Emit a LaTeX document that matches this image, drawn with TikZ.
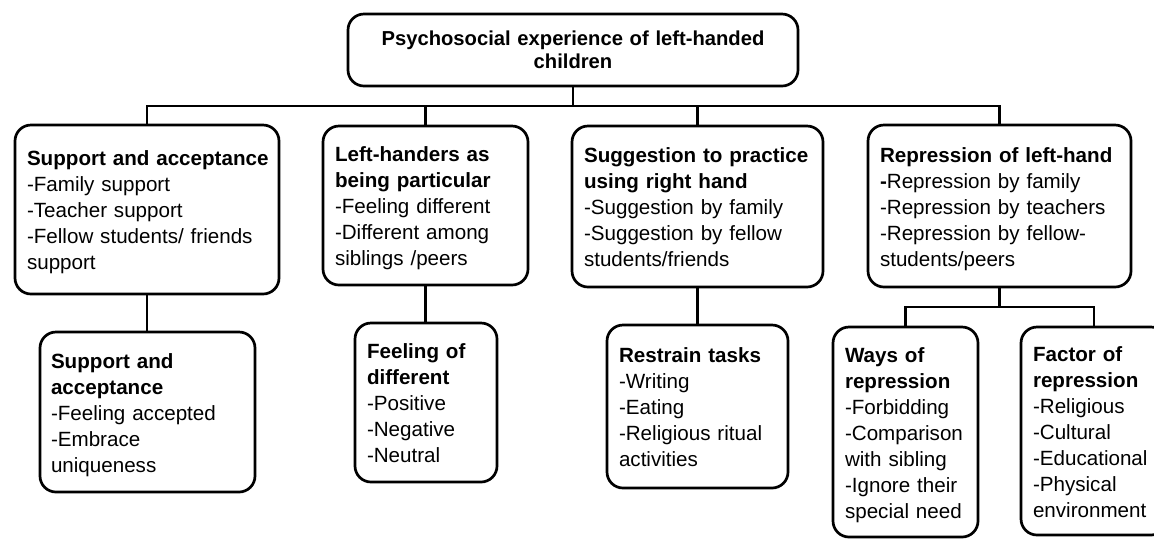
\documentclass[tikz,border=0pt]{standalone}
\usepackage{fontspec}
\setmainfont{Liberation Sans}
\newcommand\boxlines[1]{\vbox{\vskip3pt\hbox{\begin{tabular}{@{}l@{}}#1\end{tabular}}}}
\begin{document}
\begin{tikzpicture}[x=0.5pt,y=-0.5pt,
  box/.style={draw, line width=1.35pt, rounded corners=8pt, inner xsep=6pt, inner ysep=0pt,
    align=left, font=\fontsize{10.3}{13}\selectfont},
  link/.style={line width=1.2pt}]
\useasboundingbox (0,0) rectangle (1154,538);
\clip (0,0) rectangle (1154,538);
\node[box, minimum width=225pt, minimum height=36pt, text width=213pt, align=center,
  font=\fontsize{10.1}{11.5}\selectfont\bfseries] (top) at (573,50)
  {Psychosocial experience of left-handed\\children};
\node[box, minimum width=132pt, text width=120pt, minimum height=84.5pt] (b1) at (147,209.5)
  {\boxlines{\textbf{Support and acceptance}\\-Family support\\-Teacher support\\-Fellow students/ friends\\support}};
\node[box, minimum width=102.5pt, text width=90.5pt, minimum height=79.5pt] (b2) at (425.5,205.5)
  {\boxlines{\textbf{Left-handers as}\\\textbf{being particular}\\-Feeling different\\-Different among\\siblings /peers}};
\node[box, minimum width=125.5pt, text width=113.5pt, minimum height=80.5pt] (b3) at (697.5,206.5)
  {\boxlines{\textbf{Suggestion to practice}\\\textbf{using right hand}\\-Suggestion by family\\-Suggestion by fellow\\students/friends}};
\node[box, minimum width=131.5pt, text width=119.5pt, minimum height=81pt] (b4) at (999.5,206)
  {\boxlines{\textbf{Repression of left-hand}\\\textbf{-}Repression by family\\-Repression by teachers\\-Repression by fellow-\\students/peers}};
\node[box, minimum width=107.5pt, text width=96.5pt, inner xsep=5.5pt, minimum height=80pt] (c1) at (147.5,412)
  {\boxlines{\textbf{Support and}\\\textbf{acceptance}\\-Feeling accepted\\-Embrace\\uniqueness}};
\node[box, minimum width=71pt, text width=59pt, minimum height=79.5pt] (c2) at (426,402.5)
  {\boxlines{\textbf{Feeling of}\\\textbf{different}\\-Positive\\-Negative\\-Neutral}};
\node[box, minimum width=90.5pt, text width=78.5pt, minimum height=81.5pt] (c3) at (697.5,406.5)
  {\boxlines{\textbf{Restrain tasks}\\-Writing\\-Eating\\-Religious ritual\\activities}};
\node[box, minimum width=72.5pt, text width=60.5pt, minimum height=105pt] (w) at (905.5,432)
  {\boxlines{\textbf{Ways of}\\\textbf{repression}\\-Forbidding\\-Comparison\\with sibling\\-Ignore their\\special need}};
\node[box, minimum width=73pt, text width=61pt, minimum height=104pt] (f) at (1094,431)
  {\boxlines{\textbf{Factor of}\\\textbf{repression}\\-Religious\\-Cultural\\-Educational\\-Physical\\environment}};
\coordinate (bus) at (573,106);
\coordinate (sub) at (999.5,307);
\draw[link] (top.south) -- (bus);
\draw[link] (b1.north) |- (b4.north |- bus) -- (b4.north);
\draw[link] (b2.north) -- (b2.north |- bus);
\draw[link] (b3.north) -- (b3.north |- bus);
\draw[link] (b1.south) -- (b1.south |- c1.north);
\draw[link] (b2.south) -- (b2.south |- c2.north);
\draw[link] (b3.south) -- (b3.south |- c3.north);
\draw[link] (b4.south) -- (sub);
\draw[link] (w.north) |- (sub) -| (f.north);
\end{tikzpicture}
\end{document}
